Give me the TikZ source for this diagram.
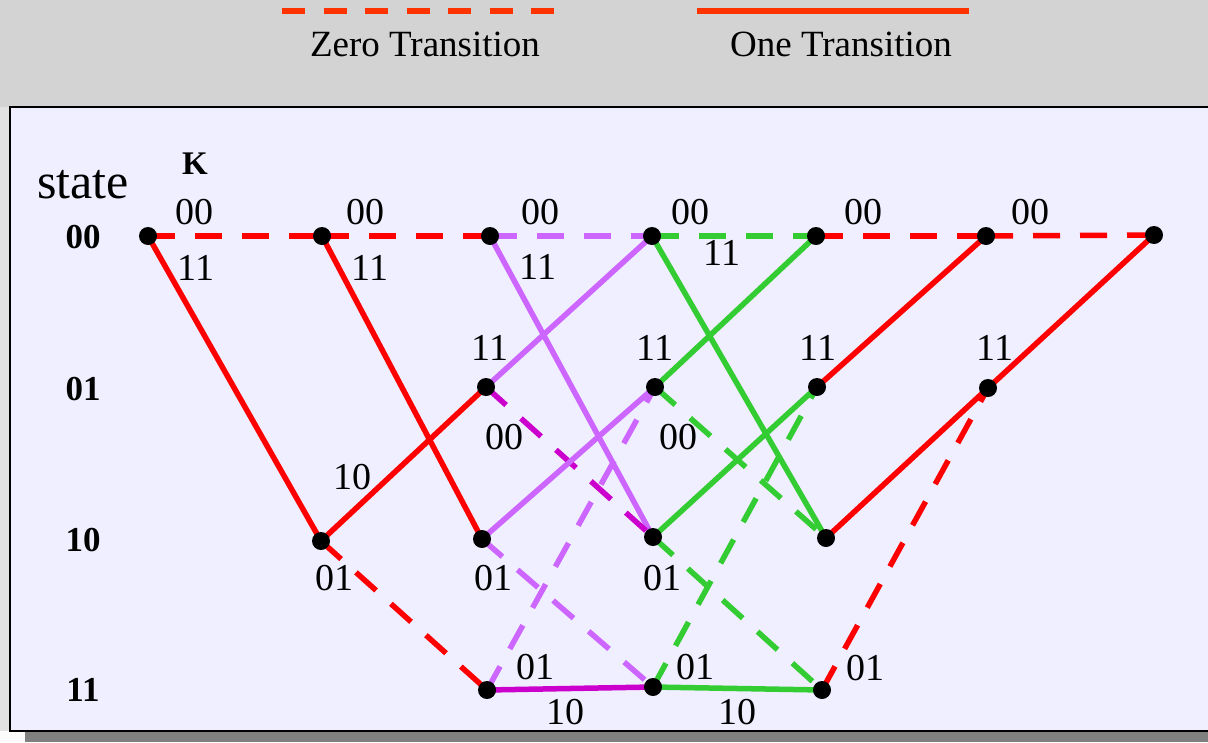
\documentclass[tikz,border=0pt]{standalone}
\usepackage{fontspec}
\setmainfont{Liberation Serif}
\pgfdeclarelayer{back}
\pgfdeclarelayer{edges}
\pgfsetlayers{back,edges,main}
\definecolor{legred}{HTML}{FF3300}
\definecolor{tred}{HTML}{FF0000}
\definecolor{lpur}{HTML}{CC66FF}
\definecolor{dmag}{HTML}{CC00CC}
\definecolor{tgrn}{HTML}{33CC33}
\definecolor{topgray}{HTML}{D3D3D3}
\definecolor{leftgray}{HTML}{E2E2E2}
\definecolor{shadowgray}{HTML}{808080}
\definecolor{boxfill}{HTML}{EFEFFF}
\begin{document}
\begin{tikzpicture}[x=1pt,y=-1pt,
  dot/.style={circle,fill=black,inner sep=0pt,minimum size=18pt},
  zerot/.style={line width=5.5pt,dash pattern=on 27pt off 20pt},
  onet/.style={line width=5.5pt},
  lbl/.style={inner sep=0pt,font=\fontsize{38}{40}\selectfont},
  rowlbl/.style={inner sep=0pt,font=\fontsize{35}{37}\selectfont\bfseries},
  legtxt/.style={inner sep=0pt,font=\fontsize{37}{40}\selectfont},
]
\useasboundingbox (0,0) rectangle (1208,742);
\begin{pgfonlayer}{back}
  \fill[topgray] (0,0) rectangle (1208,742);
  \fill[leftgray] (0,107) rectangle (10,742);
  \fill[white!90!leftgray] (0,731) rectangle (25,742);
  \fill[shadowgray] (25,731) rectangle (1208,742);
  \draw[fill=boxfill,line width=2pt] (10,107) rectangle (1230,731);
\end{pgfonlayer}

% legend
\coordinate (z1) at (282,11);
\coordinate (z2) at (554,11);
\coordinate (o1) at (697,11);
\coordinate (o2) at (969,11);
\draw[legred,line width=6pt,dash pattern=on 23pt off 18.5pt] (z1) -- (z2);
\draw[legred,line width=6pt] (o1) -- (o2);
\node[legtxt] (zt) at (425,44.5) {Zero Transition};
\node[legtxt] (ot) at (841,44.5) {One Transition};

% headings
\node[inner sep=0pt,font=\fontsize{50}{52}\selectfont] (st) at (83,185) {state};
\node[inner sep=0pt,font=\fontsize{33}{35}\selectfont\bfseries] (kk) at (195,164) {K};
\node[rowlbl] (r00) at (83,237) {00};
\node[rowlbl] (r01) at (83,389) {01};
\node[rowlbl] (r10) at (83,540) {10};
\node[rowlbl] (r11) at (83,690) {11};

% trellis states
\node[dot] (a0) at (148,236) {};
\node[dot] (a1) at (322,236) {};
\node[dot] (a2) at (490,236) {};
\node[dot] (a3) at (652,236) {};
\node[dot] (a4) at (816,236) {};
\node[dot] (a5) at (986,236) {};
\node[dot] (a6) at (1154,235) {};
\node[dot] (b2) at (486,387) {};
\node[dot] (b3) at (655,387) {};
\node[dot] (b4) at (817,387) {};
\node[dot] (b5) at (988,388) {};
\node[dot] (c1) at (321,541) {};
\node[dot] (c2) at (482,539) {};
\node[dot] (c3) at (653,537) {};
\node[dot] (c4) at (826,538) {};
\node[dot] (d2) at (487,690) {};
\node[dot] (d3) at (653,687) {};
\node[dot] (d4) at (822,690) {};

\begin{pgfonlayer}{edges}
  % stage 0-1 and 1-2 (red)
  \draw[tred,zerot] (a0.center) -- (a1.center);
  \draw[tred,onet]  (a0.center) -- (c1.center);
  \draw[tred,zerot] (a1.center) -- (a2.center);
  \draw[tred,onet]  (a1.center) -- (c2.center);
  \draw[tred,onet]  (c1.center) -- (b2.center);
  \draw[tred,zerot] (c1.center) -- (d2.center);
  % stage 2-3 (purple)
  \draw[lpur,zerot] (a2.center) -- (a3.center);
  \draw[lpur,onet]  (a2.center) -- (c3.center);
  \draw[lpur,onet]  (b2.center) -- (a3.center);
  \draw[dmag,zerot] (b2.center) -- (c3.center);
  \draw[lpur,onet]  (c2.center) -- (b3.center);
  \draw[lpur,zerot] (c2.center) -- (d3.center);
  \draw[lpur,zerot] (d2.center) -- (b3.center);
  \draw[dmag,onet]  (d2.center) -- (d3.center);
  % stage 3-4 (green)
  \draw[tgrn,zerot] (a3.center) -- (a4.center);
  \draw[tgrn,onet]  (a3.center) -- (c4.center);
  \draw[tgrn,onet]  (b3.center) -- (a4.center);
  \draw[tgrn,zerot] (b3.center) -- (c4.center);
  \draw[tgrn,onet]  (c3.center) -- (b4.center);
  \draw[tgrn,zerot] (c3.center) -- (d4.center);
  \draw[tgrn,zerot] (d3.center) -- (b4.center);
  \draw[tgrn,onet]  (d3.center) -- (d4.center);
  % stage 4-5 and 5-6 (red)
  \draw[tred,zerot] (a4.center) -- (a5.center);
  \draw[tred,onet]  (b4.center) -- (a5.center);
  \draw[tred,onet]  (c4.center) -- (b5.center);
  \draw[tred,zerot] (d4.center) -- (b5.center);
  \draw[tred,zerot] (a5.center) -- (a6.center);
  \draw[tred,onet]  (b5.center) -- (a6.center);
\end{pgfonlayer}

% edge labels
\node[lbl] (l01) at (194,212) {00};
\node[lbl] (l02) at (196,268) {11};
\node[lbl] (l03) at (365,212) {00};
\node[lbl] (l04) at (370,268) {11};
\node[lbl] (l05) at (352,477) {10};
\node[lbl] (l06) at (334,578) {01};
\node[lbl] (l07) at (540,212) {00};
\node[lbl] (l08) at (538,267) {11};
\node[lbl] (l09) at (490,348) {11};
\node[lbl] (l10) at (504,437) {00};
\node[lbl] (l11) at (493,578) {01};
\node[lbl] (l12) at (535,667) {01};
\node[lbl] (l13) at (565,712) {10};
\node[lbl] (l14) at (690,212) {00};
\node[lbl] (l15) at (722,253) {11};
\node[lbl] (l16) at (655,348) {11};
\node[lbl] (l17) at (678,437) {00};
\node[lbl] (l18) at (662,578) {01};
\node[lbl] (l19) at (695,667) {01};
\node[lbl] (l20) at (737,712) {10};
\node[lbl] (l21) at (863,212) {00};
\node[lbl] (l22) at (818,348) {11};
\node[lbl] (l23) at (865,668) {01};
\node[lbl] (l24) at (1030,212) {00};
\node[lbl] (l25) at (995,348) {11};
\end{tikzpicture}
\end{document}
